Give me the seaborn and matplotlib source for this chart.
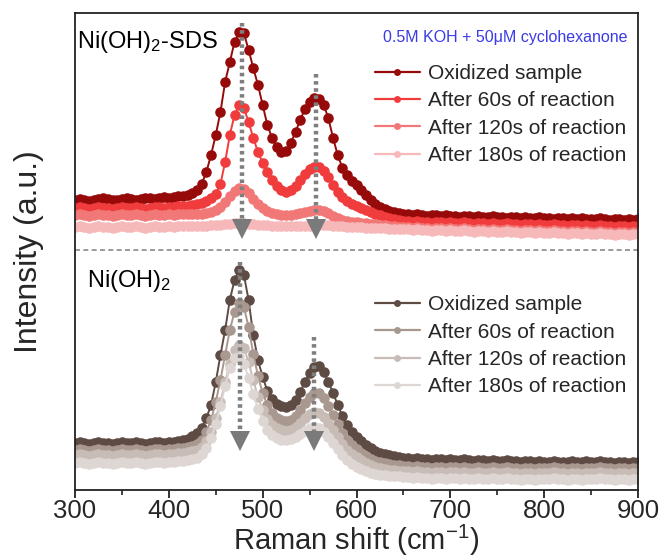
import numpy as np
import pandas as pd
import matplotlib
matplotlib.use("Agg")
import matplotlib.pyplot as plt
from matplotlib.lines import Line2D
import seaborn as sns

# ---------------- data (arbitrary intensity units) ----------------
shift = list(range(300, 905, 5))  # Raman shift, cm^-1

sds_labels = ["Oxidized sample", "After 60s of reaction",
              "After 120s of reaction", "After 180s of reaction"]
ni_labels = ["Oxidized sample", "After 60s of reaction",
             "After 120s of reaction", "After 180s of reaction"]

sds_oxidized = [290,291,290,289,290,291,292,291,290,290,291,292,291,290,291,292,292,291,292,293,292,293,294,294,295,
    297,300,306,318,335,355,378,408,428,448,458,457,440,422,405,385,365,352,343,338,339,347,358,370,381,388,392,391,
    385,372,352,335,322,315,309,305,300,295,290,286,283,281,279,278,277,276,
    276,275,276,275,274,275,275,274,275,274,274,273,274,274,273,274,273,273,274,273,
    273,272,273,273,272,273,272,272,273,272,272,271,272,272,271,272,271,272,271,271,
    271,272,271,270,271,271,270,271,270,271]
sds_60s = [282,283,282,281,282,283,282,282,281,282,283,282,282,283,282,281,282,283,283,282,283,283,284,284,284,
    285,286,287,289,292,296,306,328,355,375,385,382,368,352,338,327,318,310,304,300,298,300,304,310,316,321,323,323,
    319,313,305,298,293,289,286,284,282,280,278,276,275,273,272,271,270,269,
    269,268,269,268,268,267,268,268,267,268,267,267,268,267,266,267,267,266,267,266,
    266,267,266,266,265,266,266,265,266,265,265,266,265,265,264,265,265,264,265,264,
    264,265,264,264,263,264,264,263,264,264]
sds_120s = [275,276,275,274,275,276,275,275,274,275,276,275,275,276,275,274,275,276,275,275,276,275,276,276,276,
    276,276,276,277,278,280,283,288,294,299,302,301,297,291,286,282,279,277,276,275,275,275,276,277,278,279,280,280,
    279,277,274,272,270,269,268,268,267,267,266,266,265,265,264,264,263,263,
    263,262,263,262,262,261,262,262,261,262,261,261,262,261,260,261,261,260,261,260,
    260,261,260,260,259,260,260,259,260,259,259,260,259,259,258,259,259,258,259,258,
    258,259,258,258,257,258,258,257,258,258]
sds_180s = [263,264,263,262,263,264,263,263,262,263,264,263,263,264,263,262,263,264,263,263,264,263,264,264,264,
    264,264,264,264,265,265,265,266,266,267,267,267,266,266,265,265,265,264,264,264,
    264,264,264,264,264,264,265,265,265,265,264,264,264,263,263,263,263,262,262,262,
    262,262,261,261,261,261,
    261,260,261,260,260,259,260,260,259,260,259,259,260,259,258,259,259,258,259,258,
    258,259,258,258,257,258,258,257,258,257,257,258,257,257,256,257,257,256,257,256,
    256,257,256,256,255,256,256,255,256,256]

ni_oxidized = [47,48,47,46,47,48,47,47,46,47,48,47,47,48,47,46,47,48,48,47,48,48,49,50,51,
    54,57,62,72,85,108,135,160,190,210,220,215,190,155,130,113,99,91,86,84,83,85,90,98,108,117,123,124,
    118,108,97,85,74,65,58,53,49,45,42,39,37,36,35,34,33,32,
    32,31,32,31,31,30,31,31,30,31,30,30,31,30,29,30,30,29,30,29,
    29,30,29,29,28,29,29,28,29,28,28,29,28,28,28,29,28,28,29,28,
    28,29,28,28,27,28,28,27,28,28]
ni_60s = [40,41,40,39,40,41,40,40,39,40,41,40,40,41,40,39,40,41,41,40,41,41,42,42,43,
    44,46,50,58,70,88,110,135,160,178,187,183,163,136,114,97,85,77,72,70,69,70,74,80,87,93,97,97,
    92,84,75,66,57,50,45,41,37,34,31,29,28,27,26,25,25,24,
    24,23,24,23,23,22,23,23,22,23,23,22,23,22,22,23,22,22,23,22,
    22,23,22,22,21,22,22,21,22,22,22,23,22,22,21,22,22,21,22,22,
    22,23,22,22,21,22,22,21,22,22]
ni_120s = [35,36,35,34,35,36,35,35,34,35,36,35,35,36,35,34,35,36,36,35,36,36,37,37,38,
    39,40,43,49,58,72,88,108,126,140,145,142,128,110,93,80,71,65,62,60,59,60,63,67,72,76,78,77,
    73,67,60,53,46,40,36,33,30,27,25,23,22,21,20,20,19,19,
    19,18,19,18,18,17,18,18,17,18,18,17,18,17,17,18,17,17,18,17,
    17,18,17,17,16,17,17,16,17,17,17,18,17,17,16,17,17,16,17,17,
    17,18,17,17,16,17,17,16,17,17]
ni_180s = [27,28,27,26,27,28,27,27,26,27,28,27,27,28,27,26,27,28,28,27,28,28,29,29,30,
    31,32,36,42,52,66,84,104,122,132,133,126,112,96,81,69,60,55,52,50,50,51,53,56,59,62,63,62,
    58,53,47,41,35,30,26,23,21,19,17,16,15,15,14,14,14,13,
    13,12,13,12,12,11,12,12,11,12,12,11,12,11,11,12,11,11,12,11,
    11,12,11,11,10,11,11,10,11,11,11,12,11,11,10,11,11,10,11,11,
    11,12,11,11,10,11,11,10,11,11]

# ---------------- style ----------------
sns.set_theme(style="ticks")
plt.rcParams["font.family"] = ["Liberation Sans", "DejaVu Sans"]
plt.rcParams["mathtext.fontset"] = "custom"
plt.rcParams["mathtext.rm"] = "Liberation Sans"
plt.rcParams["mathtext.it"] = "Liberation Sans"

sds_colors = ["#960a0a", "#f03c3c", "#f27878", "#f6b8b8"]
ni_colors = ["#5e4b44", "#a8988f", "#c8bcb6", "#ddd6d3"]

fig = plt.figure(figsize=(6.63, 5.6), dpi=100)
ax = fig.add_axes([75/663, 70/560, 563/663, 477/560])

sds_series = [sds_oxidized, sds_60s, sds_120s, sds_180s]
ni_series = [ni_oxidized, ni_60s, ni_120s, ni_180s]

for vals, col in zip(sds_series, sds_colors):
    sns.lineplot(x=shift, y=vals, ax=ax, color=col, marker="o", markersize=7.6,
                 markeredgewidth=0, linewidth=1.4, legend=False)
for vals, col in zip(ni_series, ni_colors):
    sns.lineplot(x=shift, y=vals, ax=ax, color=col, marker="o", markersize=7.6,
                 markeredgewidth=0, linewidth=1.4, legend=False)

ax.set_xlim(300, 900)
ax.set_ylim(0, 477)

# separator
ax.axhline(240, color="#8a8a8a", lw=1.2, ls=(0, (3, 2)), zorder=1)

# arrows (dotted guide + triangle)
arrow_specs = [(477.6, 467, 270), (556.8, 416, 270), (476.0, 228, 58), (555.0, 153, 58)]
for xa, ytop, ybot in arrow_specs:
    ax.plot([xa, xa], [ytop, ybot], color="#7f7f7f", lw=3.2, ls=(0, (0.8, 0.8)),
            zorder=5, solid_capstyle="butt", dash_capstyle="butt")
    ax.plot([xa], [ybot - 9], marker="v", markersize=14.5, color="#7a7a7a",
            markeredgewidth=0, zorder=6)

# texts
ax.text(0.004, 0.927, r"Ni(OH)$_2$-SDS", transform=ax.transAxes, fontsize=17,
        ha="left", va="baseline", color="black")
ax.text(0.021, 0.426, r"Ni(OH)$_2$", transform=ax.transAxes, fontsize=17,
        ha="left", va="baseline", color="black")
ax.text(0.982, 0.939, "0.5M KOH + 50\u03bcM cyclohexanone", transform=ax.transAxes,
        fontsize=11.5, ha="right", va="baseline", color="#3a3ae6")

# legends
def make_handles(colors):
    return [Line2D([0], [0], color=c, lw=1.6, marker="o", markersize=5,
                   markeredgewidth=0) for c in colors]

leg_kw = dict(loc="upper left", frameon=False, fontsize=15, handlelength=2.15,
              handletextpad=0.4, labelspacing=0.40, borderpad=0, borderaxespad=0)
leg1 = ax.legend(make_handles(sds_colors), sds_labels,
                 bbox_to_anchor=(0.533, 0.893), **leg_kw)
ax.add_artist(leg1)
ax.legend(make_handles(ni_colors), ni_labels,
          bbox_to_anchor=(0.533, 0.408), **leg_kw)

# axes formatting
ax.set_xticks([300, 400, 500, 600, 700, 800, 900])
ax.set_xticks(list(range(350, 900, 100)), minor=True)
ax.set_yticks([])
ax.tick_params(axis="x", which="major", direction="out", length=6, width=1.3,
               labelsize=18.5, pad=0.5, color="#222222")
ax.tick_params(axis="x", which="minor", direction="out", length=3.5, width=1.2,
               color="#222222")
for sp in ax.spines.values():
    sp.set_visible(True)
    sp.set_linewidth(1.3)
    sp.set_color("#222222")

ax.set_xlabel("Raman shift (cm$^{\\mathregular{-1}}$)", fontsize=21)
ax.xaxis.set_label_coords(0.5, -0.068)
ax.set_ylabel("Intensity (a.u.)", fontsize=23, labelpad=22)

fig.savefig("out.png", dpi=100)
